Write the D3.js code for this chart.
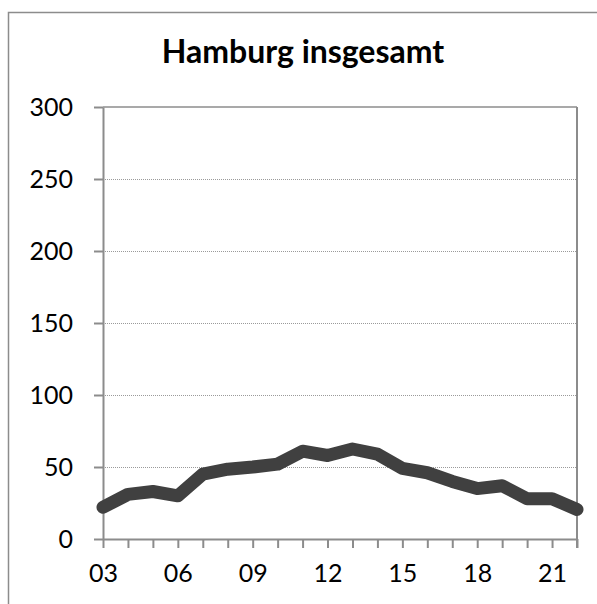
<html>
<head>
  <meta charset="UTF-8">
  <title>Hamburg insgesamt</title>
  <script src="https://d3js.org/d3.v7.min.js"></script>
  <style>
    body { margin: 0; background: white; }
    text { font-family: Lato, "Open Sans", sans-serif; fill: black; }
  </style>
</head>
<body>
<svg></svg>
<script>

    // Data
    const years = [3, 4, 5, 6, 7, 8, 9, 10, 11, 12, 13, 14, 15, 16, 17, 18, 19, 20, 21, 22];
    const values = [22, 31, 33, 30, 45, 48.5, 50, 52, 61, 58, 62.5, 59, 49, 46, 40, 35, 37, 28, 28, 20.5];
    const yTicks = [0, 50, 100, 150, 200, 250, 300];
    const xLabelYears = [3, 6, 9, 12, 15, 18, 21];
    const title = "Hamburg insgesamt";

    // Setup
    const width = 597;
    const height = 604;
    const margins = { top: 107, right: 20, bottom: 65, left: 103 };

    const chartWidth = width - margins.left - margins.right;
    const chartHeight = height - margins.top - margins.bottom;

    let svg = d3.select("svg")
                .attr("width", width)
                .attr("height", height);

    // outer chart border
    svg.append("rect")
        .attr("x", 8.5).attr("y", 12.5)
        .attr("width", 600).attr("height", 600)
        .attr("fill", "none")
        .attr("stroke", "#8c8c8c")
        .attr("stroke-width", 1.5);

    // Title
    svg.append("text")
        .attr("x", 303)
        .attr("y", 63)
        .attr("text-anchor", "middle")
        .style("font-weight", "bold")
        .style("font-size", "32px")
        .text(title);

    let chartArea = svg.append("g").attr("transform", `translate(${margins.left}, ${margins.top})`);

    // Scales
    const xScale = d3.scaleLinear().domain(d3.extent(years)).range([0, chartWidth]);
    const yScale = d3.scaleLinear().domain([0, 300]).range([chartHeight, 0]);

    // Gridlines
    let leftGridlines = d3.axisLeft(yScale).tickValues(yTicks.filter(t => t > 0 && t < 300))
                          .tickFormat("").tickSize(-chartWidth);
    chartArea.append("g")
        .attr("class", "y gridlines")
        .call(leftGridlines)
        .call(g => g.select(".domain").remove())
        .call(g => g.selectAll("line").attr("stroke", "#9a9a9a").attr("stroke-dasharray", "1,1"));

    // top line at 300 and right edge
    chartArea.append("line")
        .attr("x1", 0).attr("x2", chartWidth)
        .attr("y1", yScale(300)).attr("y2", yScale(300))
        .attr("stroke", "#8c8c8c").attr("stroke-width", 1.5);
    chartArea.append("line")
        .attr("x1", chartWidth).attr("x2", chartWidth)
        .attr("y1", 0).attr("y2", chartHeight + 9)
        .attr("stroke", "#8c8c8c").attr("stroke-width", 2);

    // Axes
    let leftAxis = d3.axisLeft(yScale).tickValues(yTicks).tickSizeInner(9).tickSizeOuter(0).tickPadding(21);
    chartArea.append("g")
        .attr("class", "y axis")
        .call(leftAxis)
        .call(g => g.selectAll("line, path").attr("stroke", "#8c8c8c").attr("stroke-width", 2))
        .call(g => g.selectAll("text").style("font-size", "25px").attr("fill", "black"));

    let bottomAxis = d3.axisBottom(xScale).tickValues(years).tickSizeInner(9).tickSizeOuter(0)
                       .tickPadding(16)
                       .tickFormat(d => xLabelYears.includes(d) ? d3.format("02d")(d) : "");
    chartArea.append("g")
        .attr("class", "x axis")
        .attr("transform", `translate(0, ${chartHeight})`)
        .call(bottomAxis)
        .call(g => g.selectAll("line, path").attr("stroke", "#8c8c8c").attr("stroke-width", 2))
        .call(g => g.selectAll("text").style("font-size", "25px").attr("fill", "black"));

    // Plotting
    const line = d3.line()
                   .x((d, i) => xScale(years[i]))
                   .y(d => yScale(d));

    chartArea.append("path")
        .datum(values)
        .attr("d", line)
        .attr("fill", "none")
        .attr("stroke", "#404040")
        .attr("stroke-width", 13)
        .attr("stroke-linejoin", "round")
        .attr("stroke-linecap", "round");

</script>
</body>
</html>
